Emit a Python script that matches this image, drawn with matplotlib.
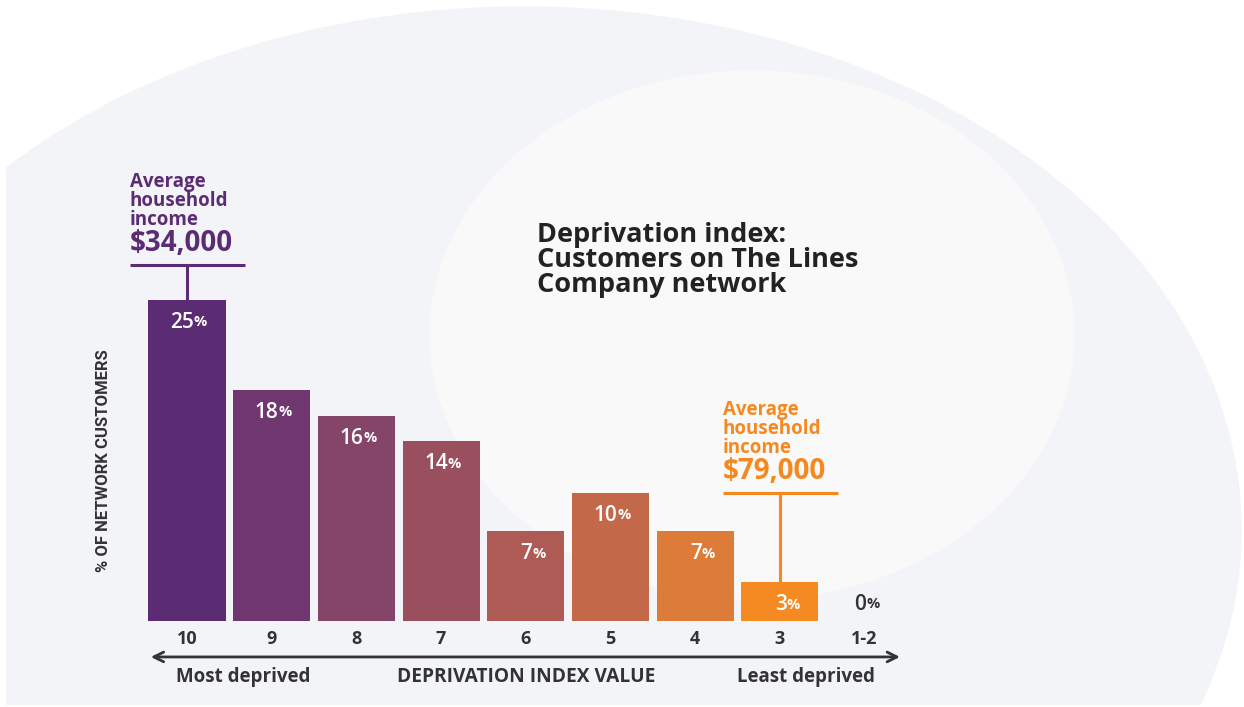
import matplotlib.pyplot as plt
from matplotlib.patches import Ellipse, Rectangle

plt.rcParams['font.family'] = ['Open Sans', 'DejaVu Sans']

# data
categories = ['10', '9', '8', '7', '6', '5', '4', '3', '1-2']
share = [25, 18, 16, 14, 7, 10, 7, 3, 0]
bar_colors = ['#5b2c74', '#6f366f', '#854569', '#9a4f5f', '#ae5b55',
              '#c4684a', '#dd7b38', '#f58a22', '#f58a22']
income_low = '$34,000'
income_high = '$79,000'

W, H = 1244, 707
fig = plt.figure(figsize=(W / 100, H / 100), dpi=100)
fig.patch.set_facecolor('white')

# background shapes (pixel coords)
bg = fig.add_axes([0, 0, 1, 1])
bg.set_xlim(0, W)
bg.set_ylim(H, 0)
bg.axis('off')
clip = Rectangle((6, 0), W, H - 2, transform=bg.transData)
outer = Ellipse((524, 530), 2 * 717, 2 * 523, color='#f3f4f7', zorder=0)
inner = Ellipse((752, 335), 2 * 322, 2 * 264, color='#f9f9fa', zorder=1)
for e in (outer, inner):
    bg.add_patch(e)
    e.set_clip_path(clip)

# main axes: one bar step = 84.7px, 1% = 12.84px, baseline at y=621px
ax = fig.add_axes([0, 0, 1, 1])
ax.patch.set_alpha(0)
ax.set_xlim(-187 / 84.7, (W - 187) / 84.7)
ax.set_ylim(-(H - 621) / 12.84, 621 / 12.84)
ax.axis('off')

x = list(range(len(categories)))
ax.bar(x, share, width=0.91, color=bar_colors, zorder=3)

# value labels
for xi, v in zip(x, share):
    if v > 0:
        ax.text(xi + 0.08, v - 1.75, str(v), color='white', fontsize=15,
                fontweight='semibold', ha='right', va='center', zorder=4)
        ax.text(xi + 0.08, v - 1.75, '%', color='white', fontsize=10.5,
                fontweight='bold', ha='left', va='center', zorder=4)
    else:
        ax.text(xi + 0.02, 1.3, str(v), color='#333333', fontsize=15,
                fontweight='semibold', ha='right', va='center')
        ax.text(xi + 0.02, 1.3, '%', color='#333333', fontsize=10.5,
                fontweight='bold', ha='left', va='center')


def income_note(xi, top, gap, label, color):
    line_y = top + gap
    ax.plot([xi - 0.673, xi + 0.685], [line_y, line_y], color=color, lw=2.2,
            solid_capstyle='butt')
    ax.plot([xi, xi], [top, line_y], color=color, lw=2.2)
    left = xi - 0.673
    ax.text(left, line_y + 5.0, 'Average\nhousehold\nincome', color=color,
            fontsize=13.5, fontweight='bold', ha='left', va='center',
            linespacing=0.93)
    ax.text(left, line_y + 1.66, label, color=color, fontsize=20,
            fontweight='bold', ha='left', va='center')


income_note(0, share[0], 2.73, income_low, '#5b2c74')
income_note(7, share[7], 6.97, income_high, '#f5891f')

# title
ax.text(4.13, 28.12, 'Deprivation index:\nCustomers on The Lines\nCompany network',
        color='#222222', fontsize=19.5, fontweight='bold', ha='left',
        va='center', linespacing=0.93)

# category labels and axis arrow
for xi, c in zip(x, categories):
    ax.text(xi, -1.40, c, color='#333333', fontsize=13, fontweight='bold',
            ha='center', va='center')
ax.annotate('', xy=(8.45, -2.8), xytext=(-0.46, -2.8),
            arrowprops=dict(arrowstyle='<->,head_length=0.7,head_width=0.35',
                            color='#333333', lw=2))
ax.text(0.66, -4.36, 'Most deprived', color='#333333', fontsize=13.5,
        fontweight='bold', ha='center', va='center')
ax.text(4.0, -4.36, 'DEPRIVATION INDEX VALUE', color='#333333', fontsize=13.8,
        fontweight='bold', ha='center', va='center')
ax.text(7.31, -4.36, 'Least deprived', color='#333333', fontsize=13.5,
        fontweight='bold', ha='center', va='center')

ax.text(-0.99, 12.5, '% OF NETWORK CUSTOMERS', color='#333333', fontsize=12,
        fontweight='bold', rotation=90, ha='center', va='center',
        family=['Liberation Sans Narrow', 'Roboto', 'DejaVu Sans'])

fig.savefig('out.png', dpi=100)
